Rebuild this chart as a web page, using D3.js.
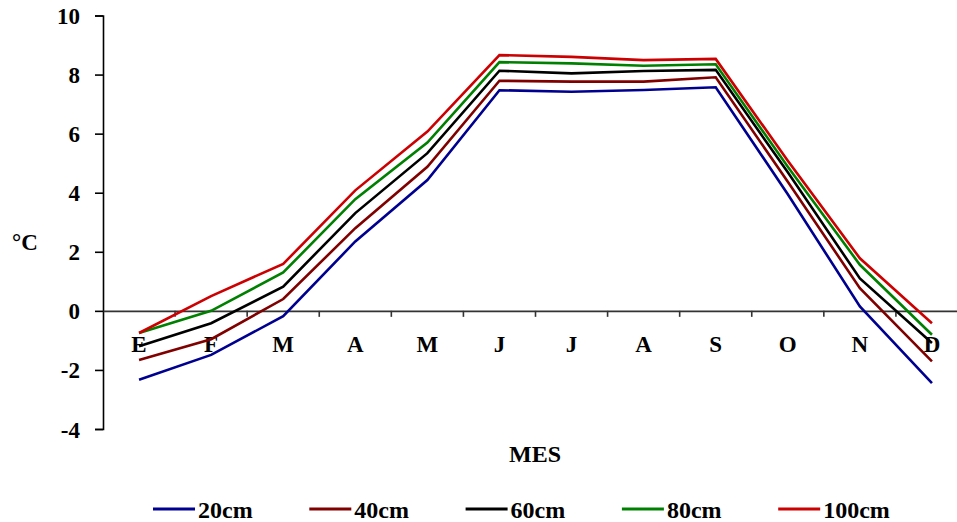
<!DOCTYPE html>
<html><head><meta charset="utf-8">
<script src="https://cdn.jsdelivr.net/npm/d3@7"></script>
<style>
body{margin:0;background:#fff;}
text{font-family:"Liberation Serif","Times New Roman",serif;font-weight:bold;fill:#000;}
</style></head>
<body><svg id="c" width="957" height="522"></svg>
<script>
const months = ["E","F","M","A","M","J","J","A","S","O","N","D"];
const s20  = [-2.33,-1.49,-0.18,2.35,4.43,7.47,7.42,7.48,7.57,3.95,0.15,-2.45];
const s40  = [-1.66,-0.96,0.40,2.80,4.88,7.79,7.76,7.76,7.91,4.37,0.77,-1.71];
const s60  = [-1.20,-0.42,0.82,3.31,5.34,8.13,8.04,8.12,8.16,4.69,1.10,-1.09];
const s80  = [-0.75,0.00,1.30,3.78,5.70,8.42,8.38,8.30,8.35,4.88,1.56,-0.81];
const s100 = [-0.75,0.50,1.59,4.08,6.07,8.66,8.60,8.49,8.53,5.08,1.78,-0.42];
const seriesNames = ["20cm","40cm","60cm","80cm","100cm"];
const seriesColors = ["#000090","#800000","#000000","#008000","#cc0000"];
const yTicks = [-4,-2,0,2,4,6,8,10];

const series = [s20,s40,s60,s80,s100];
const svg = d3.select("#c");
const x = d3.scaleBand().domain(d3.range(months.length)).range([103,968]);
const y = d3.scaleLinear().domain([-4,10]).range([429,15.5]);

// y axis
const ya = svg.append("g").attr("transform","translate(103,0)")
  .call(d3.axisLeft(y).tickValues(yTicks).tickSize(8).tickPadding(15).tickFormat(d=>String(d)));
ya.select(".domain").attr("stroke","#000").attr("stroke-width",1.6);
ya.selectAll(".tick line").attr("stroke","#000").attr("stroke-width",1.6);
ya.selectAll(".tick text").style("font-size","23px").attr("font-family",null).attr("fill","#000").attr("dy","0.35em");

// x axis at y=0
const xa = svg.append("g").attr("transform",`translate(0,${y(0)})`)
  .call(d3.axisBottom(x).tickSize(0).tickPadding(0).tickFormat(i=>months[i]));
xa.select(".domain").attr("stroke","#333").attr("stroke-width",1.6);
xa.selectAll(".tick text").style("font-size","23px").attr("font-family",null).attr("fill","#000").attr("y",41).attr("dy",0);
// tick marks at band boundaries
xa.selectAll(".bt").data(d3.range(1,months.length+1)).enter().append("line")
  .attr("x1",i=>x(0)+i*x.step()).attr("x2",i=>x(0)+i*x.step())
  .attr("y1",0).attr("y2",6).attr("stroke","#333").attr("stroke-width",1.6);

// lines
const line = d3.line().x((d,i)=>x(i)+x.bandwidth()/2).y(d=>y(d));
series.forEach((s,k)=>{
  svg.append("path").datum(s).attr("d",line).attr("fill","none")
    .attr("stroke",seriesColors[k]).attr("stroke-width",2.6).attr("stroke-linejoin","miter");
});

// axis titles
svg.append("text").attr("x",25).attr("y",250).attr("text-anchor","middle").style("font-size","23px").text("°C");
svg.append("text").attr("x",535).attr("y",462).attr("text-anchor","middle").style("font-size","24px").text("MES");

// legend
const lg = svg.append("g");
seriesNames.forEach((n,k)=>{
  const x0 = 153 + k*156.3;
  lg.append("line").attr("x1",x0).attr("x2",x0+42).attr("y1",509).attr("y2",509)
    .attr("stroke",seriesColors[k]).attr("stroke-width",3);
  lg.append("text").attr("x",x0+45).attr("y",518).style("font-size","24px").text(n);
});
</script></body></html>
